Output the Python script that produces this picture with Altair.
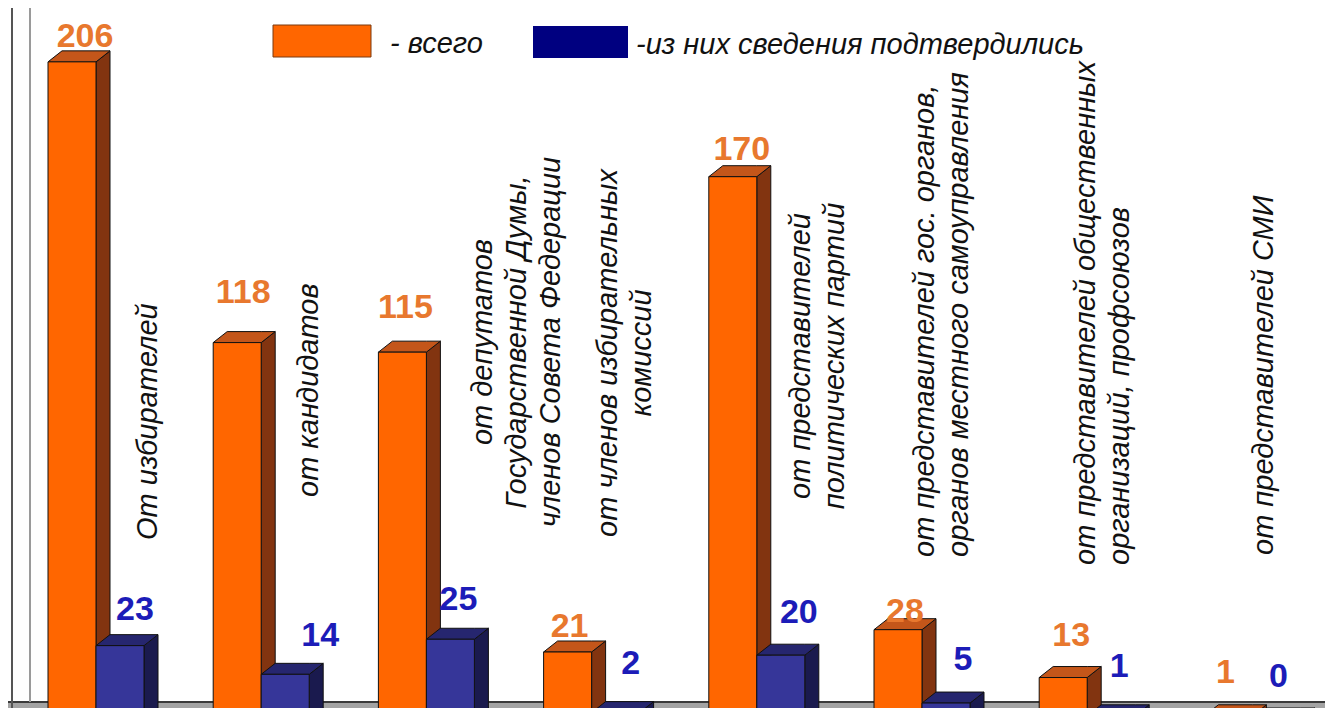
import altair as alt
import pandas as pd

# ---------------- data ----------------
categories = [
    "От избирателей",
    "от кандидатов",
    "от депутатов\nГосударственной Думы,\nчленов Совета Федерации",
    "от членов избирательных\nкомиссий",
    "от представителей\nполитических партий",
    "от представителей  гос. органов,\nорганов местного самоуправления",
    "от представителей общественных\nорганизаций, профсоюзов",
    "от представителей СМИ",
]
total = [206, 118, 115, 21, 170, 28, 13, 1]
confirmed = [23, 14, 25, 2, 20, 5, 1, 0]
series_names = ["- всего", "-из них сведения подтвердились"]

# ---------------- layout (pixels of the page) ----------------
PX_U = 165.2      # px per category
X0 = 48.0         # page x of first orange front face
PX_V = 3.19       # px per unit value
Y0 = 719.0        # page y of value 0
W_PX, DX_PX, DY_PX = 48.0, 14.0, 11.0

W_U = W_PX / PX_U
D_U = DX_PX / PX_U
D_V = DY_PX / PX_V

def pu(page_x):
    return (page_x - X0) / PX_U

def pv(page_y):
    return (Y0 - page_y) / PX_V

xs = alt.Scale(domain=[pu(8), pu(1325)], nice=False, zero=False)
ys = alt.Scale(domain=[pv(708), pv(8)], nice=False, zero=False)

# category label placement: (first line centre x, anchor y, align)
label_layout = [
    (148, 540, "left"),
    (309, 497, "left"),
    (483, 342, "center"),
    (608, 353, "center"),
    (801, 356, "center"),
    (925, 557, "left"),
    (1086, 565, "left"),
    (1264, 555, "left"),
]
# value label offsets relative to front-left / front-top (px)
o_lbl_dx = [37, 30, 27, 26, 33, 31, 32, 21]
o_lbl_dy = [25, 50, 44, 25, 27, 18, 42, 43]
b_lbl_dx = [39, 59, 32, 39, 42, 41, 32, 26]
b_lbl_dy = [36, 38, 39, 49, 42, 43, 49, 42]

ORANGE = dict(front="#ff6600", top="#c4561a", side="#823410", text="#e8782e")
BLUE = dict(front="#363699", top="#26266f", side="#1a1a4e", text="#1c1cb8")

fronts, faces, vlabels = [], [], []
for s, vals, start, ldx, ldy in [("o", total, 0.0, o_lbl_dx, o_lbl_dy),
                                 ("b", confirmed, W_U, b_lbl_dx, b_lbl_dy)]:
    for i, val in enumerate(vals):
        x0 = i + start
        x1 = x0 + W_U
        bid = f"{s}{i}"
        fronts.append(dict(s=s, x0=x0, x1=x1, top=val, base=0))
        faces += [
            dict(s=s, face="side", bid=bid, x=x1, y=val, y2=0),
            dict(s=s, face="side", bid=bid, x=x1 + D_U, y=val + D_V, y2=D_V),
            dict(s=s, face="top", bid=bid, x=x0, y=val, y2=val),
            dict(s=s, face="top", bid=bid, x=x0 + D_U, y=val + D_V, y2=val),
            dict(s=s, face="top", bid=bid, x=x1, y=val + D_V, y2=val),
            dict(s=s, face="top", bid=bid, x=x1 + D_U, y=val + D_V, y2=val + D_V),
        ]
        vlabels.append(dict(s=s, u=x0 + ldx[i] / PX_U, v=val + ldy[i] / PX_V, t=str(val)))

fronts = pd.DataFrame(fronts)
faces = pd.DataFrame(faces)
vlabels = pd.DataFrame(vlabels)

cat_df = pd.DataFrame({
    "t": categories,
    "u": [pu(l[0]) for l in label_layout],
    "v": [pv(l[1]) for l in label_layout],
    "al": [l[2] for l in label_layout],
})

X = lambda f: alt.X(f, scale=xs, axis=None)
Y = lambda f: alt.Y(f, scale=ys, axis=None, stack=None)

one = pd.DataFrame({"k": [0]})

floor = alt.Chart(one).mark_rect(color="#a3a3a3").encode(
    x=alt.value(0), x2=alt.value(1317), y=alt.value(694), y2=alt.value(700))
floor_line = alt.Chart(one).mark_rule(color="#3a3a3a", strokeWidth=2).encode(
    x=alt.value(0), x2=alt.value(1317), y=alt.value(694))
wall1 = alt.Chart(one).mark_rule(color="#555555", strokeWidth=2).encode(
    x=alt.value(4), y=alt.value(0), y2=alt.value(700))
wall2 = alt.Chart(one).mark_rule(color="#9a9a9a", strokeWidth=2).encode(
    x=alt.value(22), y=alt.value(0), y2=alt.value(694))

def face_layer(s, face, color):
    return alt.Chart(faces).transform_filter(
        (alt.datum.s == s) & (alt.datum.face == face)
    ).mark_area(fill=color, stroke="#111111", strokeWidth=1, opacity=1,
                fillOpacity=1, orient="vertical", clip=True).encode(
        x=X("x:Q"), y=Y("y:Q"), y2="y2:Q", detail="bid:N")

def front_layer(s, color):
    return alt.Chart(fronts).transform_filter(alt.datum.s == s).mark_rect(
        color=color, stroke="#111111", strokeWidth=1, clip=True).encode(
        x=X("x0:Q"), x2="x1:Q", y=Y("top:Q"), y2="base:Q")

def vlabel_layer(s, color):
    return alt.Chart(vlabels).transform_filter(alt.datum.s == s).mark_text(
        font="Liberation Sans", fontWeight="bold", fontSize=34, color=color,
        align="center", baseline="middle").encode(
        x=X("u:Q"), y=Y("v:Q"), text="t:N")

def cat_layer(al):
    return alt.Chart(cat_df).transform_filter(alt.datum.al == al).mark_text(
        font="Liberation Sans", fontStyle="italic", fontSize=29, color="#111111",
        angle=270, align=al, baseline="middle", lineBreak="\n", lineHeight=34).encode(
        x=X("u:Q"), y=Y("v:Q"), text="t:N")

leg_o_rect = alt.Chart(one).mark_rect(color=ORANGE["front"], stroke="#7a3a10", strokeWidth=1).encode(
    x=alt.value(265), x2=alt.value(363), y=alt.value(17), y2=alt.value(49))
leg_b_rect = alt.Chart(one).mark_rect(color="#000080").encode(
    x=alt.value(525), x2=alt.value(620), y=alt.value(18), y2=alt.value(50))
leg_o_text = alt.Chart(pd.DataFrame({"t": [series_names[0]]})).mark_text(
    font="Liberation Sans", fontStyle="italic", fontSize=29, color="#111111",
    align="left", baseline="middle").encode(x=alt.value(382), y=alt.value(36), text="t:N")
leg_b_text = alt.Chart(pd.DataFrame({"t": [series_names[1]]})).mark_text(
    font="Liberation Sans", fontStyle="italic", fontSize=29, color="#111111",
    align="left", baseline="middle").encode(x=alt.value(628), y=alt.value(37), text="t:N")

chart = alt.layer(
    floor, floor_line, wall1, wall2,
    face_layer("o", "side", ORANGE["side"]),
    face_layer("o", "top", ORANGE["top"]),
    front_layer("o", ORANGE["front"]),
    face_layer("b", "side", BLUE["side"]),
    face_layer("b", "top", BLUE["top"]),
    front_layer("b", BLUE["front"]),
    cat_layer("left"), cat_layer("center"),
    vlabel_layer("o", ORANGE["text"]),
    vlabel_layer("b", BLUE["text"]),
    leg_o_rect, leg_b_rect, leg_o_text, leg_b_text,
).properties(
    width=1317, height=700,
    autosize=alt.AutoSizeParams(type="none"),
    padding=0,
    background="white",
).configure_view(stroke=None)

chart.save("out.html", embed_options={"renderer": "svg", "actions": False})
